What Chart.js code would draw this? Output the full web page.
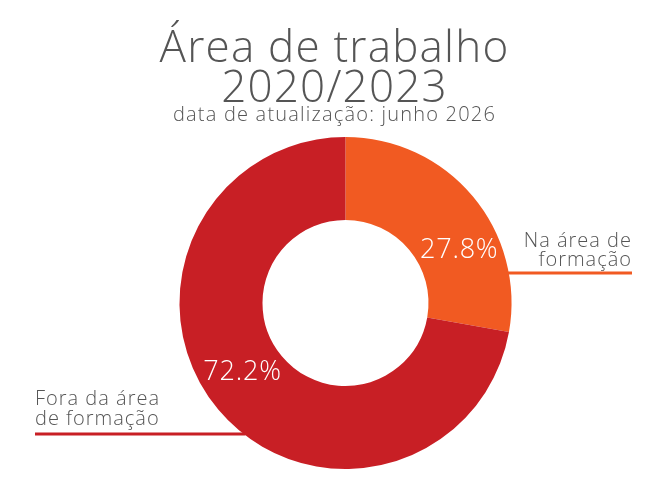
<html>
<head>
    <script src="https://cdn.jsdelivr.net/npm/chart.js@4.4.1/dist/chart.umd.min.js"></script>
    <style>
        body {
            margin: 0;
            background-color: #ffffff;
        }

        #wrap {
            width: 650px;
            height: 500px;
        }
    </style>
</head>

<body>
    <div id="wrap"><canvas id="myChart"></canvas></div>
</body>
<script>

    // the data
    var categories = ['Na área de formação', 'Fora da área de formação'];
    var sideLabels = [['Na área de', 'formação'], ['Fora da área', 'de formação']];
    var percentValues = [27.8, 72.2];
    var sliceColors = ['#F15A22', '#C81F25'];

    var titleLines = ['Área de trabalho', '2020/2023'];
    var subtitleText = 'data de atualização: junho 2026';

    var fontName = "'Open Sans', 'Lato', sans-serif";

    // the original font is wider, so spread the letters a little,
    // and the titles sit a bit left of the doughnut centre
    var titleTweak = {
        id: 'titleTweak',
        beforeDraw: function (chart) {
            chart.ctx.save();
            chart.ctx.letterSpacing = '1.2px';
            chart.ctx.translate(-11, 0);
        },
        beforeDatasetsDraw: function (chart) {
            chart.ctx.restore();
        }
    };

    // draws the % inside each slice plus the side labels with the underline
    var sliceLabels = {
        id: 'sliceLabels',
        afterDatasetsDraw: function (chart) {
            var ctx = chart.ctx;
            var arcs = chart.getDatasetMeta(0).data;
            ctx.save();
            for (var i = 0; i < arcs.length; i++) {
                var arc = arcs[i];
                var midR = (arc.innerRadius + arc.outerRadius) / 2;
                // small angle nudge so the text sits like the original
                var nudge = i == 0 ? 0.24 : 0.13;
                var ang = (arc.startAngle + arc.endAngle) / 2 + nudge;
                var px = arc.x + Math.cos(ang) * midR;
                var py = arc.y + Math.sin(ang) * midR;
                ctx.fillStyle = '#ffffff';
                ctx.font = '300 27px ' + fontName;
                ctx.letterSpacing = '0.8px';
                ctx.textAlign = 'center';
                ctx.textBaseline = 'middle';
                ctx.fillText(percentValues[i].toFixed(1) + '%', px + 2, py + 2);

                // side label + underline
                var lineY = i == 0 ? arc.y - 30 : arc.y + 131;
                var dx = Math.sqrt(arc.outerRadius * arc.outerRadius - (lineY - arc.y) * (lineY - arc.y));
                ctx.strokeStyle = sliceColors[i];
                ctx.lineWidth = 3;
                ctx.beginPath();
                var textX, off1, off2;
                if (i == 0) {
                    textX = 632;
                    ctx.moveTo(arc.x + dx - 2, lineY);
                    ctx.lineTo(textX, lineY);
                    ctx.textAlign = 'right';
                    off1 = 26; off2 = 7;
                } else {
                    textX = 35;
                    ctx.moveTo(arc.x - dx + 2, lineY);
                    ctx.lineTo(textX, lineY);
                    ctx.textAlign = 'left';
                    off1 = 29; off2 = 9;
                }
                ctx.stroke();
                ctx.fillStyle = '#555555';
                ctx.font = '300 20px ' + fontName;
                ctx.letterSpacing = '1px';
                ctx.textBaseline = 'alphabetic';
                ctx.fillText(sideLabels[i][0], textX, lineY - off1);
                ctx.fillText(sideLabels[i][1], textX, lineY - off2);
            }
            ctx.restore();
        }
    };

    var paintingCanvas = document.getElementById('myChart').getContext('2d');
    var chart = new Chart(paintingCanvas, {
        type: 'doughnut',
        data: {
            labels: categories,
            datasets: [
                {
                    data: percentValues,
                    backgroundColor: sliceColors,
                    borderWidth: 0
                }
            ]
        },
        options: {
            responsive: true,
            maintainAspectRatio: false,
            animation: false,
            cutout: '50%',
            layout: {
                padding: { left: 41, right: 0, top: 0, bottom: 31 }
            },
            plugins: {
                legend: { display: false },
                tooltip: { enabled: false },
                title: {
                    display: true,
                    text: titleLines,
                    color: '#555555',
                    font: { family: fontName, size: 44, weight: '300', lineHeight: 0.92 },
                    padding: { top: 29, bottom: 0 }
                },
                subtitle: {
                    display: true,
                    text: subtitleText,
                    color: '#555555',
                    font: { family: fontName, size: 20, weight: '300', lineHeight: 1.1 },
                    padding: { top: -6, bottom: 11 }
                }
            }
        },
        plugins: [titleTweak, sliceLabels]
    });

</script>
</html>
